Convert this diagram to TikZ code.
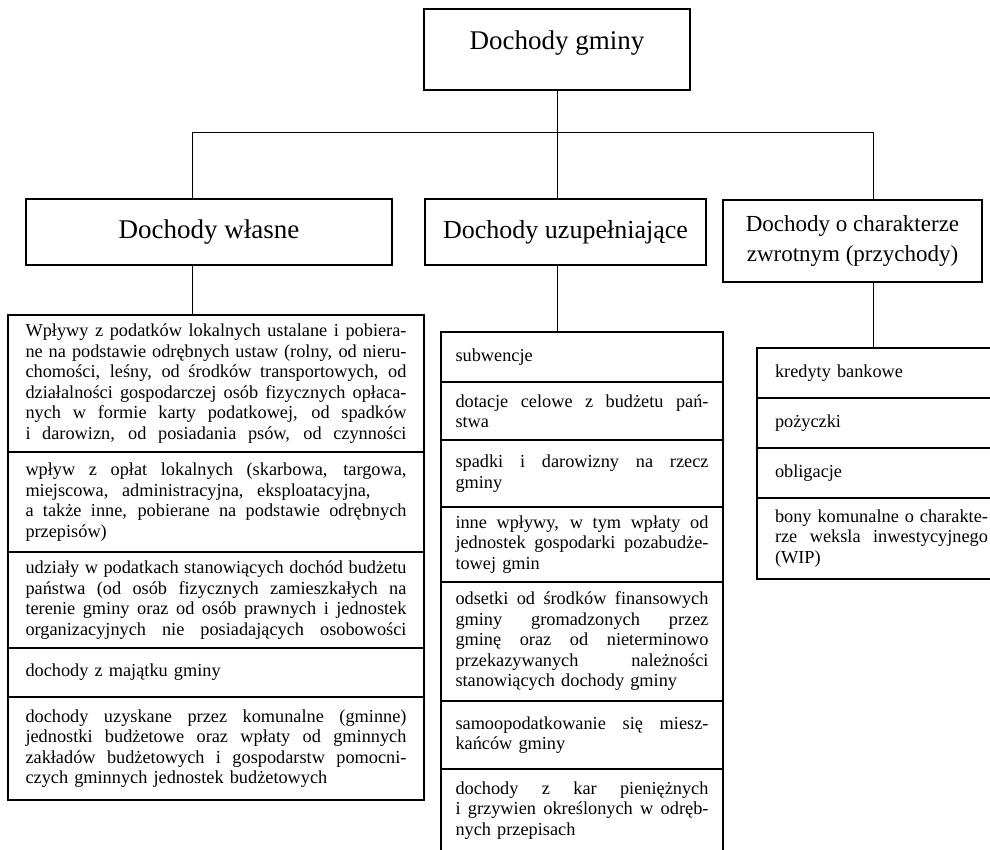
\documentclass[tikz,border=0pt]{standalone}
\usepackage{fontspec}
\setmainfont{Liberation Serif}
\usepackage{tikz}
\usetikzlibrary{positioning}
\def\rowwd{300pt}
\newcommand{\jl}[2][\rowwd]{\leavevmode\hbox to #1{\spaceskip=0.25em plus 3em minus 0.05em #2}}

\begin{document}
\begin{tikzpicture}[x=1pt,y=-1pt,
  head/.style={draw,line width=1.2pt,inner sep=0pt,outer sep=0pt,align=center,font=\fontsize{27}{30}\selectfont},
  row/.style={draw,line width=1.2pt,inner ysep=3pt,outer sep=0pt,align=left,font=\fontsize{18.3}{20.5}\selectfont},
  lrow/.style={row,text width=381pt,inner xsep=17.5pt,execute at begin node={\def\rowwd{381pt}}},
  mrow/.style={row,text width=253pt,inner xsep=14.5pt,execute at begin node={\def\rowwd{253pt}}},
  rrow/.style={row,text width=213pt,inner xsep=18pt,execute at begin node={\def\rowwd{213pt}}},
  link/.style={line width=0.9pt}]
\useasboundingbox (0,0) rectangle (990,850);

\node[head,anchor=north west,minimum width=266,minimum height=81,text depth=19pt] (gmina) at (424,9) {Dochody gminy};
\node[head,anchor=north west,minimum width=366,minimum height=66] (wlasne) at (26,199) {Dochody własne};
\node[head,anchor=north west,minimum width=281,minimum height=66,font=\fontsize{26}{30}\selectfont] (uzup) at (425,199) {Dochody uzupełniające};
\node[head,anchor=north west,minimum width=259,minimum height=82,font=\fontsize{23}{30}\selectfont] (zwrot) at (723,200) {Dochody o charakterze\\zwrotnym (przychody)};

\node[lrow,anchor=north west,minimum height=137] (w1) at (8,315) {\jl{Wpływy z podatków lokalnych ustalane i pobiera-}\\ \jl{ne na podstawie odrębnych ustaw (rolny, od nieru-}\\ \jl{chomości, leśny, od środków transportowych, od}\\ \jl{działalności gospodarczej osób fizycznych opłaca-}\\ \jl{nych w formie karty podatkowej, od spadków}\\ \jl{i darowizn, od posiadania psów, od czynności}};
\node[lrow,below=0pt of w1,minimum height=100] (w2) {\jl{wpływ z opłat lokalnych (skarbowa, targowa,}\\ \jl[345pt]{miejscowa, administracyjna, eksploatacyjna,}\\ \jl{a także inne, pobierane na podstawie odrębnych}\\ przepisów)};
\node[lrow,below=0pt of w2,minimum height=96] (w3) {\jl{udziały w podatkach stanowiących dochód budżetu}\\ \jl{państwa (od osób fizycznych zamieszkałych na}\\ \jl{terenie gminy oraz od osób prawnych i jednostek}\\ \jl{organizacyjnych nie posiadających osobowości}};
\node[lrow,below=0pt of w3,minimum height=49] (w4) {dochody z majątku gminy};
\node[lrow,below=0pt of w4,minimum height=103] (w5) {\jl{dochody uzyskane przez komunalne (gminne)}\\ \jl{jednostki budżetowe oraz wpłaty od gminnych}\\ \jl{zakładów budżetowych i gospodarstw pomocni-}\\ czych gminnych jednostek budżetowych};

\node[mrow,anchor=north west,minimum height=50] (u1) at (441,332) {subwencje};
\node[mrow,below=0pt of u1,minimum height=58] (u2) {\jl{dotacje celowe z budżetu pań-}\\ stwa};
\node[mrow,below=0pt of u2,minimum height=67] (u3) {\jl{spadki i darowizny na rzecz}\\ gminy};
\node[mrow,below=0pt of u3,minimum height=75] (u4) {\jl{inne wpływy, w tym wpłaty od}\\ \jl{jednostek gospodarki pozabudże-}\\ towej gmin};
\node[mrow,below=0pt of u4,minimum height=119] (u5) {\jl{odsetki od środków finansowych}\\ \jl{gminy gromadzonych przez}\\ \jl{gminę oraz od nieterminowo}\\ \jl{przekazywanych należności}\\ stanowiących dochody gminy};
\node[mrow,below=0pt of u5,minimum height=68] (u6) {\jl{samoopodatkowanie się miesz-}\\ kańców gminy};
\node[mrow,below=0pt of u6,minimum height=83] (u7) {\jl{dochody z kar pieniężnych}\\ \jl{i grzywien określonych w odręb-}\\ nych przepisach};

\node[rrow,anchor=north west,minimum height=50] (k1) at (757,348) {kredyty bankowe};
\node[rrow,below=0pt of k1,minimum height=50] (k2) {pożyczki};
\node[rrow,below=0pt of k2,minimum height=50] (k3) {obligacje};
\node[rrow,below=0pt of k3,minimum height=81] (k4) {\jl{bony komunalne o charakte-}\\ \jl{rze weksla inwestycyjnego}\\ (WIP)};

\coordinate (jL) at (192,132);
\coordinate (jR) at (873,132);
\coordinate (jM) at (gmina.south |- jL);
\draw[link] (jL) -- (jR);
\draw[link] (gmina.south) -- (jM |- uzup.north);
\draw[link] (jL) -- (jL |- wlasne.north);
\draw[link] (jR) -- (jR |- zwrot.north);
\draw[link] (jL |- wlasne.south) -- (jL |- w1.north);
\draw[link] (jM |- uzup.south) -- (jM |- u1.north);
\draw[link] (jR |- zwrot.south) -- (jR |- k1.north);
\end{tikzpicture}
\end{document}
